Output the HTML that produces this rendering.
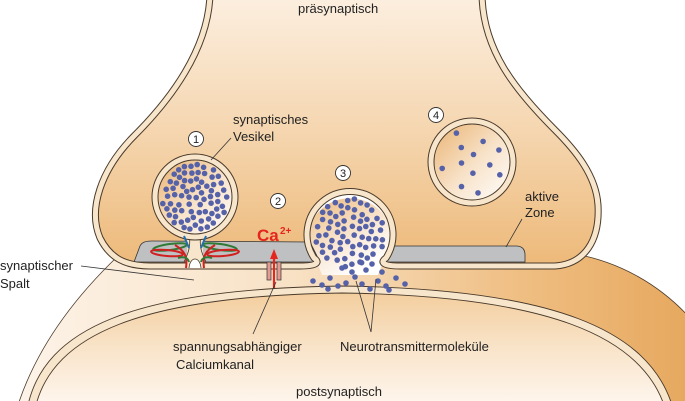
<!DOCTYPE html>
<html><head><meta charset="utf-8">
<style>
html,body{margin:0;padding:0;background:#fff;}
svg{display:block;}
text{font-family:"Liberation Sans",Arial,sans-serif;fill:#222;}
</style></head>
<body>
<svg id="s" width="685" height="401" viewBox="0 0 685 401" xmlns="http://www.w3.org/2000/svg">
<defs>
<linearGradient id="pre" x1="0" y1="0" x2="0" y2="1">
<stop offset="0" stop-color="#FCEFE0"/><stop offset="0.5" stop-color="#F5D6B0"/><stop offset="1" stop-color="#EDB979"/>
</linearGradient>
<linearGradient id="cleft" x1="0" y1="0" x2="1" y2="0">
<stop offset="0" stop-color="#FDF3E8"/><stop offset="0.4" stop-color="#F8E2C6"/><stop offset="0.75" stop-color="#EFBE82"/><stop offset="1" stop-color="#E6A85E"/>
</linearGradient>
<linearGradient id="post" x1="0" y1="0" x2="0" y2="1">
<stop offset="0" stop-color="#F3CE9E"/><stop offset="0.5" stop-color="#F9E4CA"/><stop offset="1" stop-color="#FEF6EE"/>
</linearGradient>
<linearGradient id="ves" x1="0" y1="0" x2="1" y2="1">
<stop offset="0" stop-color="#E9B06C"/><stop offset="0.55" stop-color="#F8E4CC"/><stop offset="1" stop-color="#FFFFFF"/>
</linearGradient>
<linearGradient id="ves3" x1="0" y1="0" x2="0.6" y2="1">
<stop offset="0" stop-color="#EDB979"/><stop offset="0.6" stop-color="#F9E8D6"/><stop offset="1" stop-color="#FFFFFF"/>
</linearGradient>
<path id="prep" d="M210,-5 C208,50 170,100 135,135 C100,170 88,210 100,238 C110,258 125,266 150,266 L300,266 C318,266 320,262 314,258 A43,43 0 1 1 386,258 C380,262 382,266 400,266 L555,266 C585,264 600,240 598,205 C596,175 575,150 555,130 C515,90 483,50 482,-5 Z"/>
</defs>

<!-- outer cleft / glia region -->
<path d="M118,256 C72,300 36,350 18,405 L690,405 L690,318 C660,285 620,262 575,254 Z" fill="url(#cleft)" stroke="#4a3a2a" stroke-width="0.8"/>

<!-- postsynaptic dome -->
<path d="M28,405 C45,330 130,289 342,286 C555,289 648,330 672,405 Z" fill="#F8E6CC" stroke="#4a3a2a" stroke-width="0.9"/>
<path d="M36,405 C54,336 138,296 342,293 C548,296 640,336 664,405 Z" fill="url(#post)" stroke="#4a3a2a" stroke-width="0.9"/>

<!-- vesicle 3 interior -->
<path d="M322,275 C318,262 306,250 308,232 A43,43 0 0 1 392,232 C394,250 382,262 378,275 Z" fill="url(#ves3)"/>

<!-- presynaptic -->
<use href="#prep" fill="url(#pre)"/>
<!-- active zone -->
<path d="M134,262 L140,246 C142,242 146,241 152,241 L310,242 C314,250 318,258 320,262 Z" fill="#BFC0C2" stroke="#333" stroke-width="0.8"/>
<path d="M380,262 C384,255 388,250 392,246 L516,246 C523,246 525,250 525,255 L525,262 Z" fill="#BFC0C2" stroke="#333" stroke-width="0.8"/>
<use href="#prep" fill="none" stroke="#4a3a2a" stroke-width="7"/>
<use href="#prep" fill="none" stroke="#F8E6CC" stroke-width="5"/>

<!-- vesicle 1 stalk -->
<path d="M187,232 L187,268 L203,268 L203,232 Z" fill="#F8E6CC"/>
<path d="M189,234 C191,245 189,252 184,262" fill="none" stroke="#4a3a2a" stroke-width="0.8"/>
<path d="M201,234 C199,245 201,252 206,262" fill="none" stroke="#4a3a2a" stroke-width="0.8"/>
<path d="M189,268 C190,256 200,256 201,268" fill="#fff" stroke="#4a3a2a" stroke-width="0.8"/>
<!-- vesicle 1 -->
<circle cx="195" cy="197" r="40" fill="url(#ves)" stroke="#4a3a2a" stroke-width="7"/>
<circle cx="195" cy="197" r="40" fill="none" stroke="#F8E6CC" stroke-width="5"/>
<!-- vesicle 4 -->
<circle cx="472" cy="162" r="41" fill="url(#ves)" stroke="#4a3a2a" stroke-width="7"/>
<circle cx="472" cy="162" r="41" fill="none" stroke="#F8E6CC" stroke-width="5"/>

<!-- SNARE complex -->
<g fill="none" stroke-width="2">
<ellipse cx="170" cy="247" rx="17" ry="3" stroke="#2f7a35" transform="rotate(-8 170 247)"/>
<ellipse cx="220" cy="247" rx="17" ry="3" stroke="#2f7a35" transform="rotate(8 220 247)"/>
<ellipse cx="167" cy="253" rx="16" ry="3" stroke="#d02020" transform="rotate(5 167 253)"/>
<ellipse cx="223" cy="253" rx="16" ry="3" stroke="#d02020" transform="rotate(-5 223 253)"/>
<path d="M175,245 C183,250 188,255 186,268" stroke="#d02020"/>
<path d="M215,245 C207,250 202,255 204,268" stroke="#d02020"/>
<path d="M178,258 C184,256 188,258 189,262" stroke="#2f7a35"/>
<path d="M212,258 C206,256 202,258 201,262" stroke="#2f7a35"/>
<path d="M184,236 L189,248" stroke="#1f6fb5"/>
<path d="M206,236 L201,248" stroke="#1f6fb5"/>
</g>

<!-- Calcium channel -->
<rect x="267" y="262" width="4" height="18" fill="#E49A92" stroke="#333" stroke-width="0.7"/>
<rect x="277" y="262" width="4" height="18" fill="#E49A92" stroke="#333" stroke-width="0.7"/>
<line x1="274" y1="288" x2="274" y2="258" stroke="#e52520" stroke-width="2.2"/>
<polygon points="274,249 270,259 278,259" fill="#e52520"/>
<text x="257" y="241" font-size="17" font-weight="bold" style="fill:#e52520">Ca</text>
<text x="280" y="234" font-size="10" font-weight="bold" style="fill:#e52520">2+</text>

<g id="dots" fill="#5561A8"></g>

<!-- leader lines -->
<g stroke="#333" stroke-width="0.8" fill="none">
<line x1="211" y1="160" x2="231" y2="138"/>
<line x1="522" y1="219" x2="506" y2="247"/>
<line x1="81" y1="266" x2="194" y2="280"/>
<line x1="276" y1="282" x2="253" y2="334"/>
<line x1="356" y1="281" x2="371" y2="332"/>
<line x1="376" y1="279" x2="371" y2="332"/>
</g>

<!-- numbered circles -->
<g font-size="11" text-anchor="middle">
<circle cx="196" cy="139" r="7.5" fill="#fff" stroke="#333" stroke-width="0.9"/><text x="196" y="143">1</text>
<circle cx="278" cy="201" r="7.5" fill="#fff" stroke="#333" stroke-width="0.9"/><text x="278" y="205">2</text>
<circle cx="343" cy="173" r="7.5" fill="#fff" stroke="#333" stroke-width="0.9"/><text x="343" y="177">3</text>
<circle cx="436" cy="115" r="7.5" fill="#fff" stroke="#333" stroke-width="0.9"/><text x="436" y="119">4</text>
</g>

<g font-size="13">
<text x="298" y="13">präsynaptisch</text>
<text x="233" y="124">synaptisches</text>
<text x="233" y="141">Vesikel</text>
<text x="525" y="201">aktive</text>
<text x="525" y="217">Zone</text>
<text x="0" y="270">synaptischer</text>
<text x="0" y="288">Spalt</text>
<text x="173" y="351">spannungsabhängiger</text>
<text x="176" y="369">Calciumkanal</text>
<text x="340" y="351">Neurotransmittermoleküle</text>
<text x="296" y="396">postsynaptisch</text>
</g>
</svg>
<script>
(function(){
var g=document.getElementById('dots');var seed=7;
function r(){seed=(seed*16807)%2147483647;return seed/2147483647;}
function add(x,y){var c=document.createElementNS('http://www.w3.org/2000/svg','circle');c.setAttribute('cx',x.toFixed(1));c.setAttribute('cy',y.toFixed(1));c.setAttribute('r','2.8');g.appendChild(c);}
function fill(cx,cy,R,n,minDist){var pts=[],tries=0;while(pts.length<n&&tries<20000){tries++;var a=r()*6.283,d=Math.sqrt(r())*R;var x=cx+Math.cos(a)*d,y=cy+Math.sin(a)*d;var ok=true;for(var i=0;i<pts.length;i++){var dx=pts[i][0]-x,dy=pts[i][1]-y;if(dx*dx+dy*dy<minDist*minDist){ok=false;break;}}if(ok){pts.push([x,y]);add(x,y);}}}
fill(195,197,33,85,6);
fill(350,233,35,75,6.5);
fill(472,162,33,12,14);
var cl=[[313,281],[322,285],[330,278],[338,286],[346,283],[355,277],[362,284],[370,289],[378,281],[386,286],[396,278],[405,284],[342,268],[352,272],[366,270],[382,272],[360,262],[372,264],[328,289],[389,290]];
cl.forEach(function(p){add(p[0],p[1]);});
})();
</script>
</body></html>
